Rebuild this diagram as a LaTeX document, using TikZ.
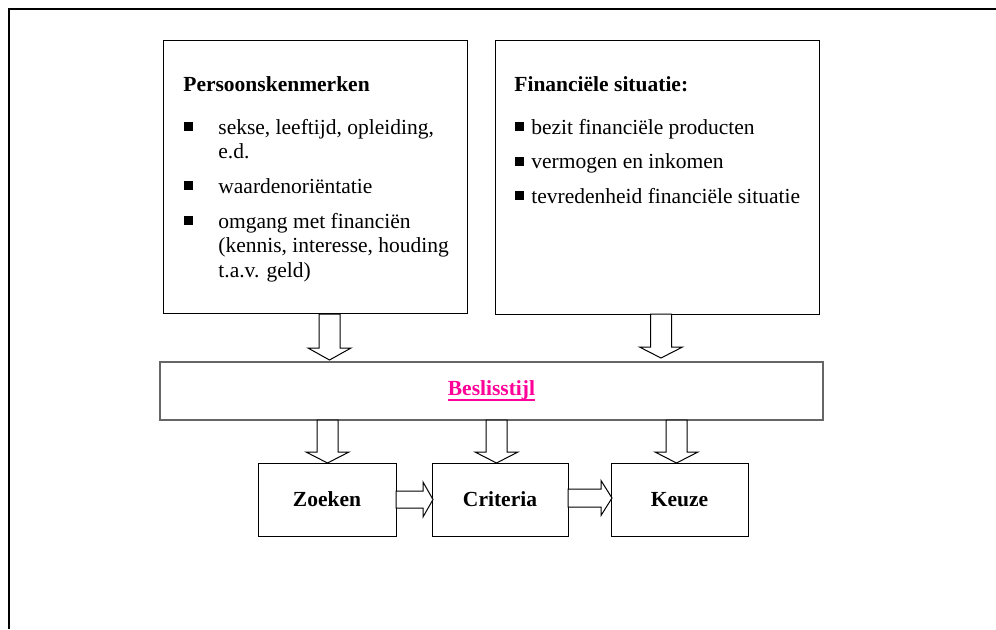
\documentclass[tikz,border=0pt]{standalone}
\usepackage{fontspec}
\setmainfont{Liberation Serif}
\definecolor{besl}{RGB}{255,0,153}
\newcommand\blt{\rule[1.5pt]{4.5pt}{4.5pt}}
\newcommand\ulthick[1]{\setbox0\hbox{#1}\rlap{\rule[-3pt]{\wd0}{1pt}}\box0}
\newcommand\varrowp[4]{% cx, ytop, ybase, ytip
  \draw[barrow] (#1-10.5,#2) -- (#1+10.5,#2) -- (#1+10.5,#3) -- (#1+21.5,#3) -- (#1,#4) -- (#1-21.5,#3) -- (#1-10.5,#3) -- cycle;}
\newcommand\harrowp[6]{% xstart, xbase, xtip, cy, shaft half, head half
  \draw[barrow] (#1,#4-#5) -- (#2,#4-#5) -- (#2,#4-#6) -- (#3,#4) -- (#2,#4+#6) -- (#2,#4+#5) -- (#1,#4+#5) -- cycle;}
\begin{document}
\begin{tikzpicture}[x=0.5pt,y=-0.5pt,
  font=\fontsize{10.75}{12.5}\selectfont,
  box/.style={draw=black, line width=0.5pt, rectangle, inner sep=0pt, fill=white},
  txt/.style={anchor=base west, inner sep=0pt},
  barrow/.style={draw=black, line width=0.5pt, fill=white, line join=miter}]
\useasboundingbox (0,0) rectangle (996,629);
% outer frame
\draw[line width=1pt] (9,629) -- (9,9) -- (996,9);
% boxes
\node[box, minimum width=152pt, minimum height=136.5pt] (pk) at (315,176.5) {};
\node[box, minimum width=162pt, minimum height=137pt] (fs) at (657,177) {};
\node[box, draw=black!60, line width=0.7pt, minimum width=331.5pt, minimum height=29pt] (besl) at (491.5,391)
  {\raisebox{-1.5pt}{\textcolor{besl}{\ulthick{\textbf{Beslisstijl}}}}};
\node[box, minimum width=69pt, minimum height=36.5pt] (zoek) at (327,499.5) {\textbf{Zoeken}};
\node[box, minimum width=68pt, minimum height=36.5pt] (crit) at (500,499.5) {\textbf{Criteria}};
\node[box, minimum width=68.5pt, minimum height=36.5pt] (keuze) at (679.5,499.5) {\textbf{Keuze}};
% left box text
\node[txt] (pkh) at (183,91) {\textbf{Persoonskenmerken}};
\node[txt] (pk1) at (184,134) {\makebox[17pt][l]{\blt}sekse, leeftijd, opleiding,};
\node[txt] (pk1b) at (218,158.5) {e.d.};
\node[txt] (pk2) at (184,193) {\makebox[17pt][l]{\blt}waardenoriëntatie};
\node[txt] (pk3) at (184,228) {\makebox[17pt][l]{\blt}omgang met financiën};
\node[txt] (pk3b) at (218,252.5) {(kennis, interesse, houding};
\node[txt] (pk3c) at (218,277) {t.a.v. geld)};
% right box text
\node[txt] (fsh) at (514,91) {\textbf{Financiële situatie:}};
\node[txt] (fs1) at (515,134) {\blt\hspace{3.5pt}bezit financiële producten};
\node[txt] (fs2) at (515,168.5) {\blt\hspace{3.5pt}vermogen en inkomen};
\node[txt] (fs3) at (515,203) {\blt\hspace{3.5pt}tevredenheid financiële situatie};
% block arrows
\varrowp{329.5}{314}{348}{360}
\varrowp{661}{314}{347}{358}
\varrowp{327.5}{420}{452}{463}
\varrowp{496.5}{420}{452}{463}
\varrowp{676.5}{420}{452}{463}
\harrowp{396}{423}{433}{499.5}{8.5}{17.5}
\harrowp{568}{601}{612}{498}{9}{17.5}
\end{tikzpicture}
\end{document}
